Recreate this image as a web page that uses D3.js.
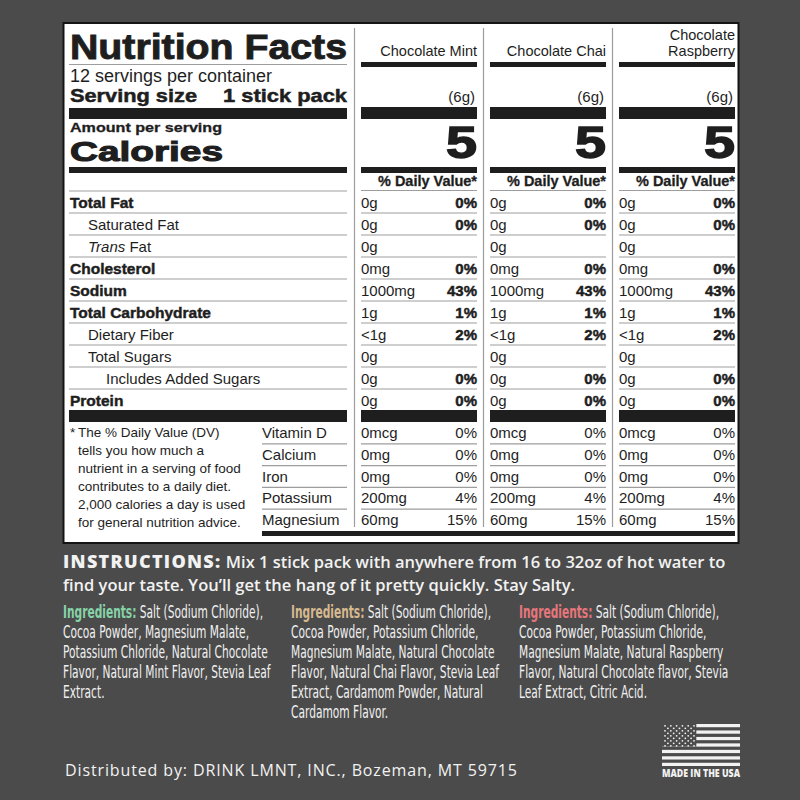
<!DOCTYPE html>
<html lang="en">
<head>
<meta charset="UTF-8">
<title>Nutrition Facts</title>
<script src="https://cdn.jsdelivr.net/npm/d3@7"></script>
<style>
    html, body {
        margin: 0;
        padding: 0;
        background: #4b4b4b;
    }
    svg { display: block; }
    .lab { font-family: "Liberation Sans", Arial, Helvetica, sans-serif; fill: #1e1e1e; }
    .pack { font-family: "Open Sans", "Liberation Sans", sans-serif; fill: #f2f2f2; }
    .ingr { font-family: "Liberation Sans Narrow", "DejaVu Sans Condensed", "Liberation Sans", sans-serif; fill: #f0f0f0; }
</style>
</head>
<body>
<svg id="chart" width="800" height="800"></svg>

<script>
    // columns
    const flavors = ["Chocolate Mint", "Chocolate Chai", "Chocolate Raspberry"];
    const flavorHeader = [["Chocolate Mint"], ["Chocolate Chai"], ["Chocolate", "Raspberry"]];
    const servingWeight = ["(6g)", "(6g)", "(6g)"];
    const calories = [5, 5, 5];

    // main nutrient rows
    const nutrients = ["Total Fat", "Saturated Fat", "Trans Fat", "Cholesterol", "Sodium",
        "Total Carbohydrate", "Dietary Fiber", "Total Sugars", "Includes Added Sugars", "Protein"];
    const nutrientBold = [true, false, false, true, true, true, false, false, false, true];
    const nutrientIndent = [0, 1, 1, 0, 0, 0, 1, 1, 2, 0];
    const nutrientAmounts = [
        ["0g", "0g", "0g", "0mg", "1000mg", "1g", "<1g", "0g", "0g", "0g"],
        ["0g", "0g", "0g", "0mg", "1000mg", "1g", "<1g", "0g", "0g", "0g"],
        ["0g", "0g", "0g", "0mg", "1000mg", "1g", "<1g", "0g", "0g", "0g"]
    ];
    const nutrientDV = [
        ["0%", "0%", "", "0%", "43%", "1%", "2%", "", "0%", "0%"],
        ["0%", "0%", "", "0%", "43%", "1%", "2%", "", "0%", "0%"],
        ["0%", "0%", "", "0%", "43%", "1%", "2%", "", "0%", "0%"]
    ];

    // vitamins & minerals
    const vitamins = ["Vitamin D", "Calcium", "Iron", "Potassium", "Magnesium"];
    const vitaminAmounts = [
        ["0mcg", "0mg", "0mg", "200mg", "60mg"],
        ["0mcg", "0mg", "0mg", "200mg", "60mg"],
        ["0mcg", "0mg", "0mg", "200mg", "60mg"]
    ];
    const vitaminDV = [
        ["0%", "0%", "0%", "4%", "15%"],
        ["0%", "0%", "0%", "4%", "15%"],
        ["0%", "0%", "0%", "4%", "15%"]
    ];

    const footnote = ["The % Daily Value (DV)", "tells you how much a", "nutrient in a serving of food",
        "contributes to a daily diet.", "2,000 calories a day is used", "for general nutrition advice."];

    const instructions = [
        ["INSTRUCTIONS:", " Mix 1 stick pack with anywhere from 16 to 32oz of hot water to"],
        ["", "find your taste. You\u2019ll get the hang of it pretty quickly. Stay Salty."]
    ];

    const ingredientColors = ["#86d3a7", "#d6b98f", "#e7767b"];
    const ingredients = [
        ["Salt (Sodium Chloride),", "Cocoa Powder, Magnesium Malate,", "Potassium Chloride, Natural Chocolate",
            "Flavor, Natural Mint Flavor, Stevia Leaf", "Extract."],
        ["Salt (Sodium Chloride),", "Cocoa Powder, Potassium Chloride,", "Magnesium Malate, Natural Chocolate",
            "Flavor, Natural Chai Flavor, Stevia Leaf", "Extract, Cardamom Powder, Natural", "Cardamom Flavor."],
        ["Salt (Sodium Chloride),", "Cocoa Powder, Potassium Chloride,", "Magnesium Malate, Natural Raspberry",
            "Flavor, Natural Chocolate flavor, Stevia", "Leaf Extract, Citric Acid."]
    ];

    const distributor = "Distributed by:  DRINK LMNT, INC., Bozeman, MT 59715";

    const INK = "#1e1e1e";
    const RULE = "#9d9d9d";

    const svg = d3.select("#chart");

    // scales
    const x = d3.scaleBand().domain(flavors).range([354, 741]);
    const colL = f => x(f) + 7;
    const colR = f => x(f) + x.bandwidth() - 6;
    const y = d3.scaleBand().domain(nutrients).range([191, 411]);
    const yv = d3.scaleBand().domain(vitamins).range([422, 531]);
    const yFoot = d3.scaleLinear().domain([0, footnote.length - 1]).range([437, 527]);
    const ingX = d3.scaleBand().domain(flavors).range([63, 747]);
    const ingY = d3.scaleLinear().domain([0, 1]).range([618, 638]);
    const instY = d3.scaleLinear().domain([0, 1]).range([568, 591]);

    const LEFT0 = 69, LEFT1 = 347, VIT0 = 262;

    // panel
    svg.append("rect")
        .attr("x", 63.5).attr("y", 23).attr("width", 675).attr("height", 520)
        .attr("fill", "#fff").attr("stroke", "#141414").attr("stroke-width", 2);

    function bar(x0, x1, y0, h) {
        svg.append("rect").attr("x", x0).attr("y", y0).attr("width", x1 - x0).attr("height", h).attr("fill", INK);
    }

    function rule(x0, x1, yy) {
        svg.append("line").attr("x1", x0).attr("x2", x1).attr("y1", yy).attr("y2", yy)
            .attr("stroke", RULE).attr("stroke-width", 1.2);
    }

    function txt(s, xx, yy, size, opts = {}) {
        const t = svg.append("text").attr("class", "lab")
            .attr("x", xx).attr("y", yy)
            .attr("font-size", size)
            .attr("text-anchor", opts.anchor || "start")
            .attr("font-weight", opts.bold ? "bold" : "normal")
            .text(s);
        if (opts.len) t.attr("textLength", opts.len).attr("lengthAdjust", "spacingAndGlyphs");
        if (opts.stroke) t.attr("stroke", INK).attr("stroke-width", opts.stroke);
        return t;
    }

    // column dividers
    svg.selectAll(".divider")
        .data(flavors)
        .enter()
        .append("line")
        .attr("class", "divider")
        .attr("x1", d => x(d) + 0.5).attr("x2", d => x(d) + 0.5)
        .attr("y1", 28).attr("y2", 527)
        .attr("stroke", RULE).attr("stroke-width", 1.2);

    // left header block
    txt("Nutrition Facts", 70, 59, 35, {bold: true, len: 277, stroke: 0.9});
    rule(LEFT0, LEFT1, 64.5);
    txt("12 servings per container", 70, 82, 17.5, {len: 202});
    txt("Serving size", 70, 102, 18.5, {bold: true, len: 127, stroke: 0.5});
    txt("1 stick pack", LEFT1, 102, 18.5, {bold: true, anchor: "end", len: 124, stroke: 0.5});
    bar(LEFT0, LEFT1, 108, 11);
    txt("Amount per serving", 70, 131.5, 13, {bold: true, len: 152, stroke: 0.3});
    txt("Calories", 70, 160.5, 28.5, {bold: true, len: 153, stroke: 1.1});
    bar(LEFT0, LEFT1, 167, 6);
    rule(LEFT0, LEFT1, 191);

    // flavor column headers
    flavors.forEach((f, k) => {
        const lines = flavorHeader[k];
        lines.forEach((s, i) => txt(s, colR(f), 56 - (lines.length - 1 - i) * 16.5, 14.5, {anchor: "end"}));
        bar(colL(f), colR(f), 62, 5);
        txt(servingWeight[k], colR(f) - 2, 102, 15, {anchor: "end"});
        bar(colL(f), colR(f), 107, 12);
        txt(calories[k], colR(f), 158, 44, {anchor: "end", bold: true, len: 31, stroke: 1.4});
        bar(colL(f), colR(f), 167, 6);
        txt("% Daily Value*", colR(f), 186, 14, {anchor: "end", bold: true, len: 99, stroke: 0.3});
        rule(colL(f), colR(f), 190.5);
    });

    // nutrient rows
    nutrients.forEach((n, i) => {
        const base = y(n) + 17;
        const lx = 70 + nutrientIndent[i] * 18;
        if (n === "Trans Fat") {
            const t = txt("", lx, base, 15);
            t.append("tspan").attr("font-style", "italic").text("Trans");
            t.append("tspan").text(" Fat");
        } else {
            txt(n, lx, base, nutrientBold[i] ? 15.5 : 15, {bold: nutrientBold[i], stroke: nutrientBold[i] ? 0.45 : 0});
        }
        const last = i === nutrients.length - 1;
        if (!last) rule(LEFT0, LEFT1, y(n) + y.bandwidth());
        flavors.forEach((f, k) => {
            txt(nutrientAmounts[k][i], colL(f), base, 15);
            if (nutrientDV[k][i]) txt(nutrientDV[k][i], colR(f), base, 15, {anchor: "end", bold: true, stroke: 0.45});
            if (!last) rule(colL(f), colR(f), y(n) + y.bandwidth());
        });
    });
    bar(LEFT0, LEFT1, 410, 12);
    flavors.forEach(f => bar(colL(f), colR(f), 410, 12));

    // vitamins
    vitamins.forEach((v, i) => {
        const base = yv(v) + 16;
        txt(v, VIT0, base, 15);
        const last = i === vitamins.length - 1;
        if (!last) rule(VIT0, LEFT1, yv(v) + yv.bandwidth());
        flavors.forEach((f, k) => {
            txt(vitaminAmounts[k][i], colL(f), base, 15);
            txt(vitaminDV[k][i], colR(f), base, 15, {anchor: "end"});
            if (!last) rule(colL(f), colR(f), yv(v) + yv.bandwidth());
        });
    });
    bar(VIT0, colR(flavors[flavors.length - 1]), 531, 5);

    // footnote
    txt("*", 70, yFoot(0), 13.5);
    footnote.forEach((s, i) => txt(s, 78, yFoot(i), 13.5));

    // instructions
    instructions.forEach((parts, i) => {
        const t = svg.append("text").attr("class", "pack")
            .attr("x", 63).attr("y", instY(i));
        if (parts[0]) t.append("tspan").attr("font-size", 18).attr("font-weight", 800)
            .attr("letter-spacing", 1.3).text(parts[0]);
        t.append("tspan").attr("font-size", 16.5).attr("font-weight", 600).text(parts[1]);
    });

    // ingredients: squeeze the font so the widest line matches the picture
    const probe = svg.append("text").attr("class", "ingr").attr("font-size", 17).text(ingredients[0][2]);
    const ingSx = 205 / probe.node().getComputedTextLength();
    probe.remove();
    flavors.forEach((f, k) => {
        ingredients[k].forEach((s, i) => {
            const t = svg.append("text").attr("class", "ingr")
                .attr("font-size", 17)
                .attr("transform", `translate(${ingX(f)},${ingY(i)}) scale(${ingSx},1)`);
            if (i === 0) t.append("tspan").attr("fill", ingredientColors[k]).attr("font-weight", "bold").text("Ingredients:");
            t.append("tspan").text((i === 0 ? " " : "") + s);
        });
    });

    // distributor
    svg.append("text").attr("class", "pack")
        .attr("x", 65).attr("y", 776)
        .attr("font-size", 16).attr("font-weight", 500)
        .attr("textLength", 452).attr("lengthAdjust", "spacing")
        .text(distributor);

    // made in the usa flag
    const fx = d3.scaleLinear().domain([0, 1]).range([662, 740]);
    const fy = d3.scaleBand().domain(d3.range(13)).range([724, 766]);
    const flag = svg.append("g");
    flag.selectAll("rect.stripe")
        .data(d3.range(0, 13, 2))
        .enter()
        .append("rect")
        .attr("class", "stripe")
        .attr("x", fx(0)).attr("width", fx(1) - fx(0))
        .attr("y", d => fy(d)).attr("height", fy.bandwidth())
        .attr("fill", "#f2f2f2");
    flag.append("rect")
        .attr("x", fx(0)).attr("y", fy(0))
        .attr("width", fx(0.44) - fx(0)).attr("height", fy(7) - fy(0))
        .attr("fill", "#4b4b4b");
    const stars = [];
    d3.range(9).forEach(r => d3.range(r % 2 ? 5 : 6).forEach(c => stars.push([r, c])));
    flag.selectAll("circle")
        .data(stars)
        .enter()
        .append("circle")
        .attr("cx", d => fx(0) + 3 + d[1] * 5.8 + (d[0] % 2 ? 2.9 : 0))
        .attr("cy", d => fy(0) + 1.8 + d[0] * 2.5)
        .attr("r", 0.9)
        .attr("fill", "#f2f2f2");
    svg.append("text").attr("class", "pack")
        .attr("x", 662).attr("y", 777)
        .attr("font-size", 10).attr("font-weight", 800)
        .attr("textLength", 78).attr("lengthAdjust", "spacingAndGlyphs")
        .text("MADE IN THE USA");
</script>
</body>
</html>
